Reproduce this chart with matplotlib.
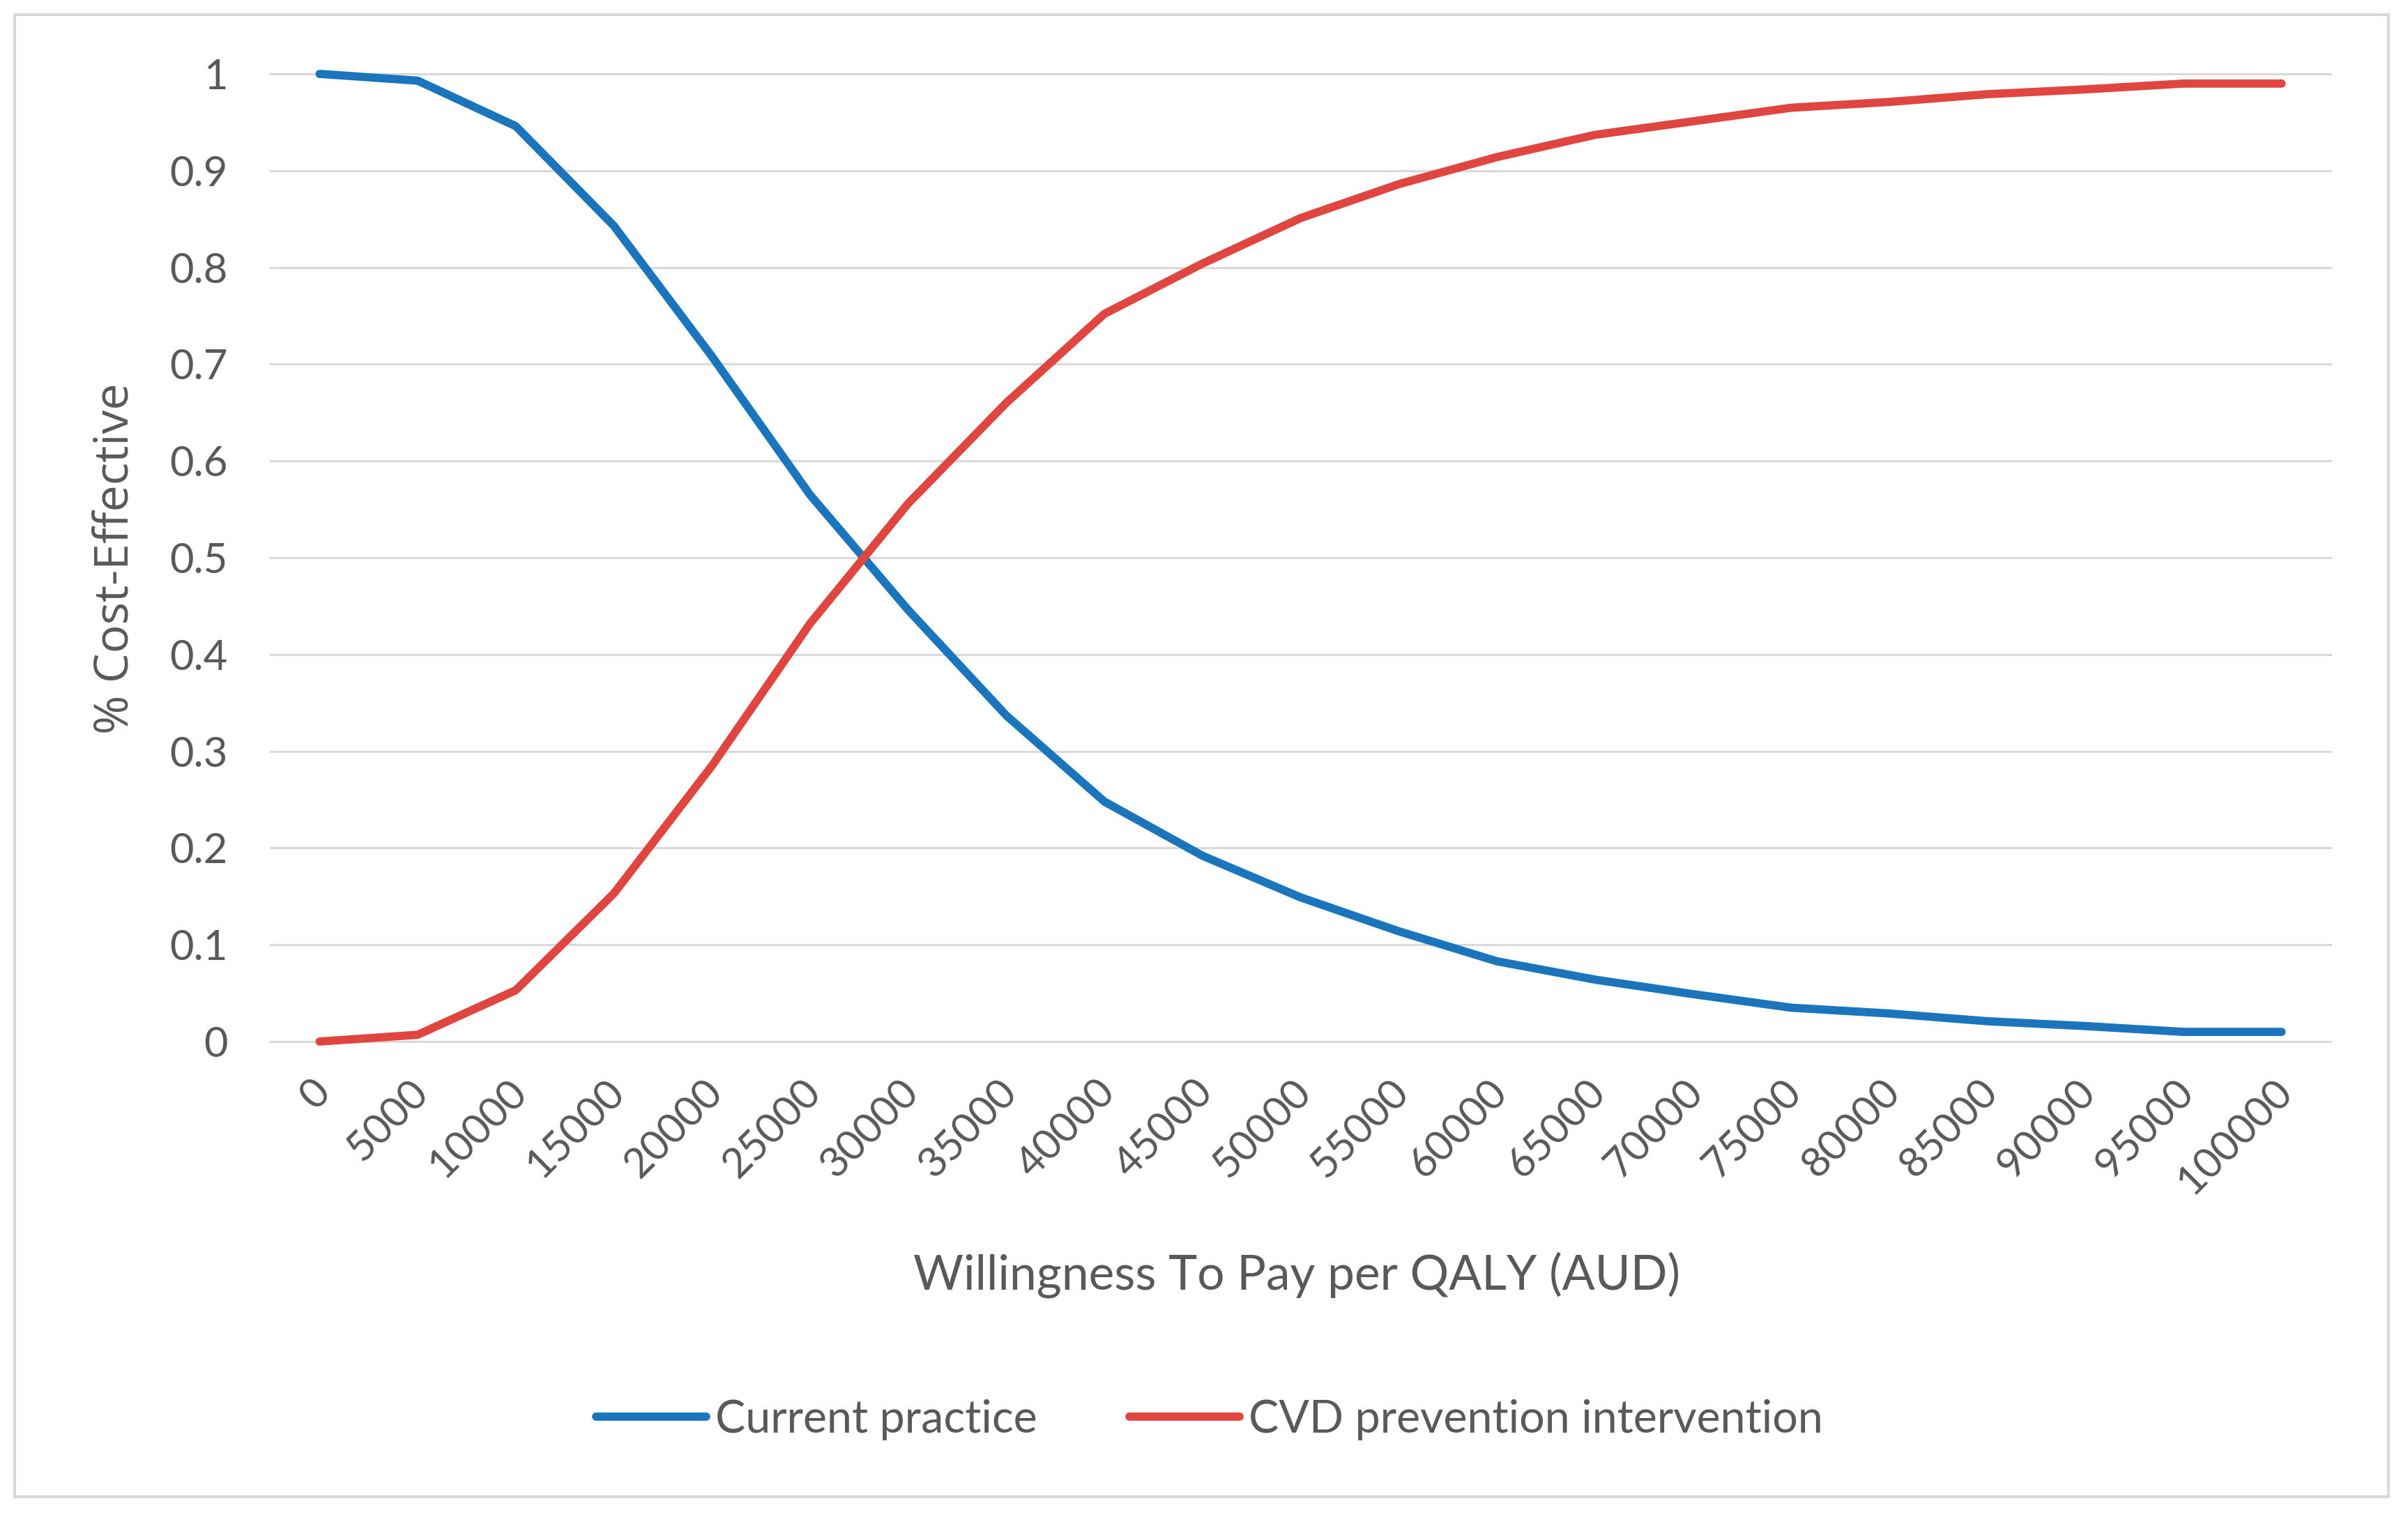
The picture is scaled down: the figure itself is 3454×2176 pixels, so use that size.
import matplotlib
matplotlib.use('Agg')
import matplotlib.pyplot as plt
from matplotlib.patches import Rectangle
import matplotlib.transforms as mtrans

# ---- data ----
wtp = [0, 5000, 10000, 15000, 20000, 25000, 30000, 35000, 40000, 45000, 50000,
       55000, 60000, 65000, 70000, 75000, 80000, 85000, 90000, 95000, 100000]
current_practice = [1.0, 0.993, 0.946, 0.843, 0.708, 0.565, 0.446, 0.337, 0.248, 0.192, 0.149,
                    0.114, 0.083, 0.064, 0.049, 0.035, 0.029, 0.021, 0.016, 0.010, 0.010]
cvd_intervention = [0.0, 0.007, 0.053, 0.153, 0.285, 0.432, 0.556, 0.660, 0.752, 0.804, 0.851,
                    0.886, 0.914, 0.937, 0.951, 0.965, 0.971, 0.979, 0.984, 0.990, 0.990]
y_ticks = [0, 0.1, 0.2, 0.3, 0.4, 0.5, 0.6, 0.7, 0.8, 0.9, 1.0]
y_tick_labels = ['0', '0.1', '0.2', '0.3', '0.4', '0.5', '0.6', '0.7', '0.8', '0.9', '1']
series_names = ['Current practice', 'CVD prevention intervention']
x_title = 'Willingness To Pay per QALY (AUD)'
y_title = '% Cost-Effective'

W, H = 3455, 2176
BLUE = '#1B75BC'
RED = '#E0463F'
GRID = '#D9D9D9'
TXT = '#595959'

fig = plt.figure(figsize=(W / 100, H / 100), dpi=100)
fig.patch.set_facecolor('white')

# outer chart border
fig.patches.append(Rectangle((21 / W, (H - 2147) / H), (3426 - 21) / W, (2147 - 21) / H,
                             transform=fig.transFigure, fill=False, edgecolor=GRID, lw=3))

left, right, top, bottom = 388, 3343, 106, 1494
ax = fig.add_axes([left / W, (H - bottom) / H, (right - left) / W, (bottom - top) / H])
xs = list(range(len(wtp)))
l1, = ax.plot(xs, current_practice, color=BLUE, lw=8.5, solid_capstyle='round',
              solid_joinstyle='round', clip_on=False, zorder=3, label=series_names[0])
l2, = ax.plot(xs, cvd_intervention, color=RED, lw=8.5, solid_capstyle='round',
              solid_joinstyle='round', clip_on=False, zorder=3, label=series_names[1])

ax.set_xlim(-0.5, len(wtp) - 0.5)
ax.set_ylim(0, 1)
ax.set_yticks(y_ticks)
ax.set_yticklabels(y_tick_labels, fontfamily='Lato', fontsize=43, color=TXT)
ax.yaxis.grid(True, color=GRID, lw=2.2)
for gl in ax.get_ygridlines():
    gl.set_clip_on(False)
ax.set_axisbelow(True)
for s in ax.spines.values():
    s.set_visible(False)
ax.tick_params(length=0)
ax.tick_params(axis='y', pad=44)
ax.set_xticks(xs)
ax.set_xticklabels([str(v) for v in wtp], rotation=45, ha='right', va='center',
                   rotation_mode='anchor', fontfamily='Lato', fontsize=43, color=TXT)
ax.tick_params(axis='x', pad=46)
off = mtrans.ScaledTranslation(6 / 100, 0, fig.dpi_scale_trans)
for lab in ax.get_xticklabels():
    lab.set_transform(lab.get_transform() + off)

fig.text(1860 / W, 1 - 1829 / H, x_title, ha='center', va='center',
         fontfamily='Lato', fontsize=50, color=TXT)
fig.text(166 / W, 1 - 801 / H, y_title, ha='center', va='center', rotation=90,
         fontfamily='Open Sans', fontsize=49, color=TXT)

leg = fig.legend(handles=[l1, l2], loc='center', bbox_to_anchor=(1735 / W, 1 - 2036 / H),
                 ncol=2, frameon=False, prop={'family': 'Lato', 'size': 46.5},
                 handlelength=2.45, handletextpad=0.2, columnspacing=2.05, labelcolor=TXT)

fig.savefig('out.png', dpi=100, facecolor='white')
